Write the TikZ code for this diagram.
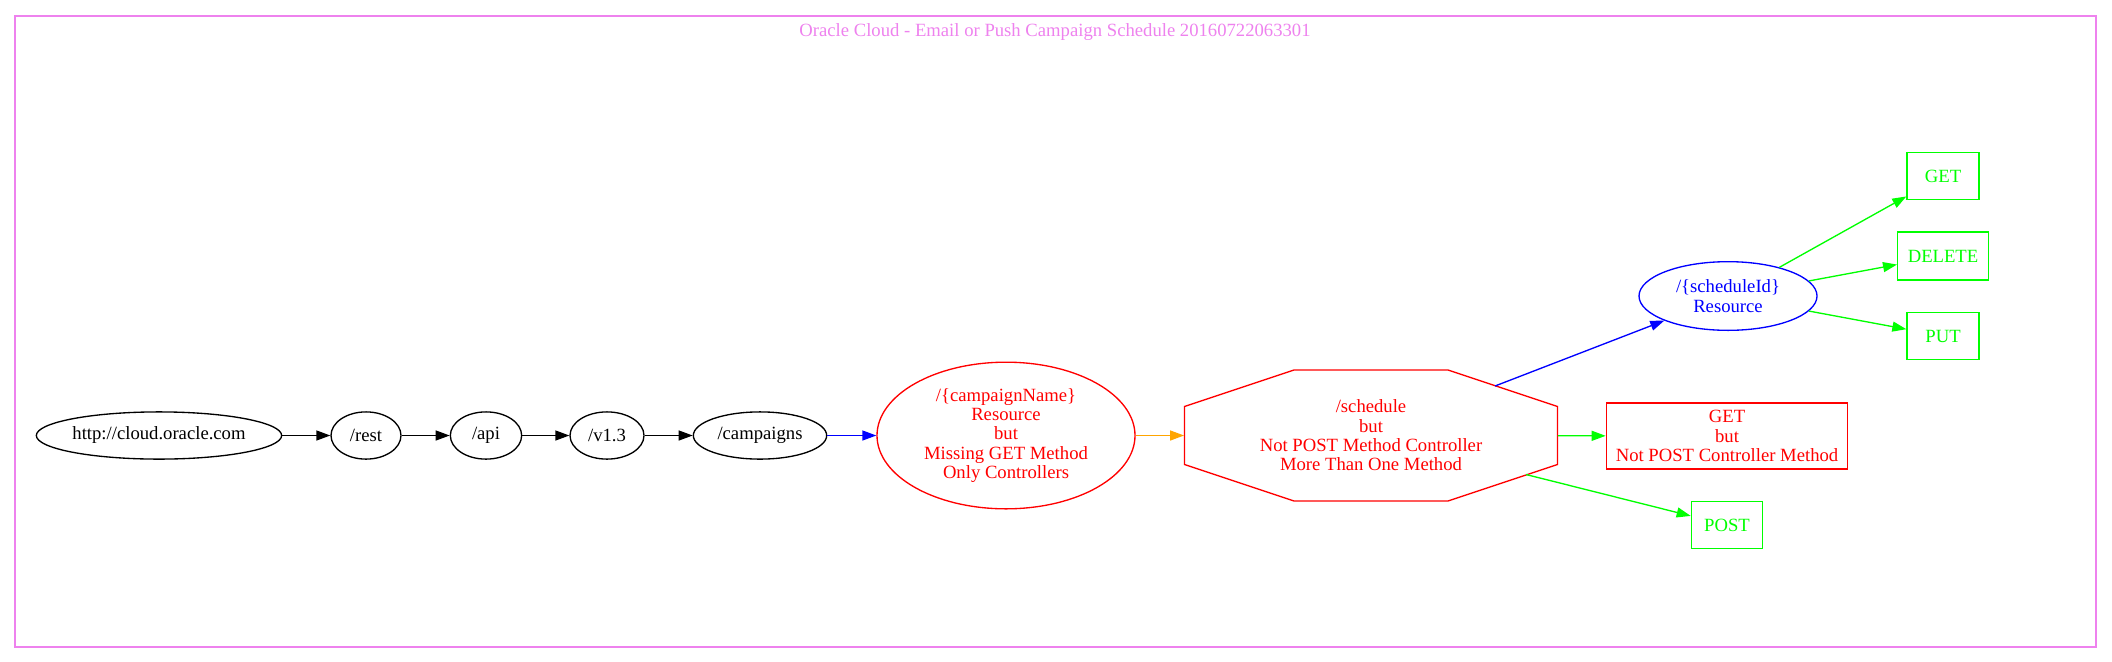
\documentclass[tikz,border=0pt]{standalone}
\usepackage{fontspec}
\setmainfont{Liberation Serif}
\usetikzlibrary{shapes.geometric,arrows.meta}
\definecolor{gvviolet}{RGB}{238,130,238}
\definecolor{gvgreen}{RGB}{0,255,0}
\definecolor{gvorange}{RGB}{255,165,0}

\begin{document}
\begin{tikzpicture}[x=0.75pt,y=0.75pt,yscale=-1,xscale=1,
	every node/.style={font=\fontsize{14}{14.5}\selectfont,inner sep=0pt,align=center},
	urlnode/.style={ellipse,draw,line width=1pt,minimum height=35.4pt},
	badres/.style={ellipse,draw=red,text=red,line width=1pt},
	goodres/.style={ellipse,draw=blue,text=blue,line width=1pt},
	okmeth/.style={rectangle,draw=gvgreen,text=gvgreen,line width=1pt,minimum width=54pt,minimum height=35.3pt},
	badmeth/.style={rectangle,draw=red,text=red,line width=1pt},
	link/.style={line width=1pt,-{Triangle[length=10.5pt,width=7.5pt]}}]
	\useasboundingbox (0,0) rectangle (2112,661);
	\draw [gvviolet,line width=1pt] (15,16) rectangle (2096,647);
	\node (title) at (1055,32) [text=gvviolet] {Oracle Cloud - Email or Push Campaign Schedule 20160722063301};
	\node (host) at (159,435.5) [urlnode,minimum width=184pt] {http://cloud.oracle.com};
	\node (rest) at (366,435.5) [urlnode,minimum width=52.5pt] {/rest};
	\node (api) at (486,435.5) [urlnode,minimum width=53.5pt] {/api};
	\node (ver) at (607,435.5) [urlnode,minimum width=55.5pt] {/v1.3};
	\node (camps) at (760,435.5) [urlnode,minimum width=100pt] {/campaigns};
	\node (campname) at (1006,435.5) [badres,minimum width=193.5pt,minimum height=110pt] {/\{campaignName\}\\Resource\\but\\Missing GET Method\\Only Controllers};
	\node (sched) at (1371,435.5) [text=red,minimum width=280pt,minimum height=98pt] {/schedule\\but\\Not POST Method Controller\\More Than One Method};
	\draw [red,line width=1pt] (1184.5,406.5) -- (1294,370) -- (1448,370) -- (1557.5,406.5) -- (1557.5,464.5) -- (1448,501) -- (1294,501) -- (1184.5,464.5) -- cycle;
	\coordinate (schedne) at (1495,386);
	\coordinate (schedse) at (1526,474.5);
	\node (schedid) at (1728,296) [goodres,minimum width=133.5pt,minimum height=51.5pt] {/\{scheduleId\}\\Resource};
	\node (getid) at (1943,176) [okmeth] {GET};
	\node (delid) at (1943,256) [okmeth,minimum width=68pt,minimum height=36pt] {DELETE};
	\node (putid) at (1943,336) [okmeth] {PUT};
	\node (getbad) at (1727,436) [badmeth,minimum width=181pt,minimum height=49.5pt] {GET\\but\\Not POST Controller Method};
	\node (post) at (1727,525) [okmeth,minimum width=53.5pt] {POST};
	\draw [link] (host) -- (rest);
	\draw [link] (rest) -- (api);
	\draw [link] (api) -- (ver);
	\draw [link] (ver) -- (camps);
	\draw [link,blue] (camps) -- (campname);
	\draw [link,gvorange] (campname) -- (sched);
	\draw [link,blue] (schedne) -- (schedid);
	\draw [link,gvgreen] (sched) -- (getbad);
	\draw [link,gvgreen] (schedse) -- (post);
	\draw [link,gvgreen] (schedid) -- (getid);
	\draw [link,gvgreen] (schedid) -- (delid);
	\draw [link,gvgreen] (schedid) -- (putid);
\end{tikzpicture}
\end{document}
